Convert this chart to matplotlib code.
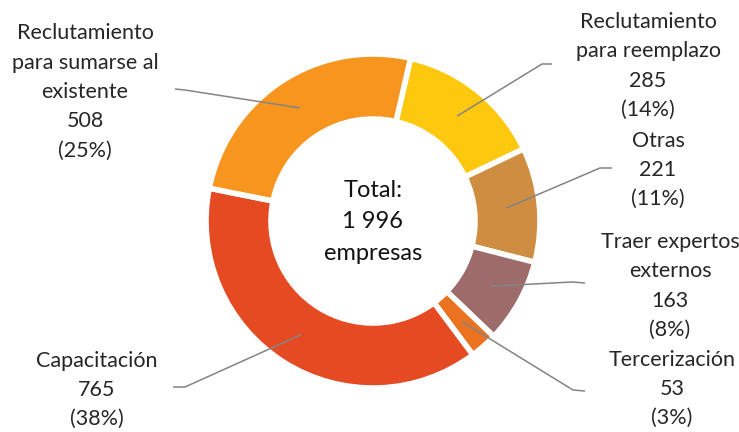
import matplotlib
matplotlib.use("Agg")
import matplotlib.pyplot as plt
import numpy as np

# Doughnut data (clockwise from the top)
categories = ["Reclutamiento\npara reemplazo", "Otras", "Traer expertos\nexternos",
              "Tercerización", "Capacitación", "Reclutamiento\npara sumarse al\nexistente"]
values = [285, 221, 163, 53, 765, 508]
total_label = "1 996"

colors = ["#FEC80E", "#CF8D41", "#9E6B6B", "#EA7220", "#E54A23", "#F7951F"]

# label block centre, elbow point and line start (pixels, y up)
label_xy = [(648, 366), (658, 262), (670, 146), (672, 43), (97, 42), (85, 340)]
line_pts = [((552, 368), (542, 368)), ((612, 264), (600, 264)), ((585, 149), (572, 150)),
            ((585, 41), (573, 42)), ((173, 45), (185, 45)), ((175, 343), (185, 342))]

plt.rcParams['font.family'] = ['Lato', 'DejaVu Sans']

W, H = 739, 432
fig = plt.figure(figsize=(W / 100, H / 100), dpi=100)
ax = fig.add_axes([0, 0, 1, 1])

cx, cy = 373, 211
R, ring = 167, 65
wedges, _ = ax.pie(values, colors=colors, startangle=77, counterclock=False,
                   radius=R, center=(cx, cy), frame=True,
                   wedgeprops=dict(width=ring, edgecolor='white', linewidth=4))
ax.set_xlim(0, W)
ax.set_ylim(0, H)
ax.set_aspect('equal')
ax.axis('off')

tot = sum(values)
for w, cat, v, (tx, ty), (p0, p1) in zip(wedges, categories, values, label_xy, line_pts):
    mid = np.deg2rad((w.theta1 + w.theta2) / 2)
    rm = R - ring / 2
    axp = (cx + rm * np.cos(mid), cy + rm * np.sin(mid))
    ax.plot([p0[0], p1[0], axp[0]], [p0[1], p1[1], axp[1]], color='#848484', lw=1.1,
            solid_capstyle='butt', zorder=3)
    pct = round(100 * v / tot)
    ax.text(tx, ty, f"{cat}\n{v}\n({pct}%)", ha='center', va='center', fontsize=15.5,
            color='#262626', linespacing=1.58)

ax.text(cx, cy - 1, f"Total:\n{total_label}\nempresas", ha='center', va='center',
        fontsize=17, color='#111111', linespacing=1.62)

fig.savefig("out.png", dpi=100, facecolor='white')
